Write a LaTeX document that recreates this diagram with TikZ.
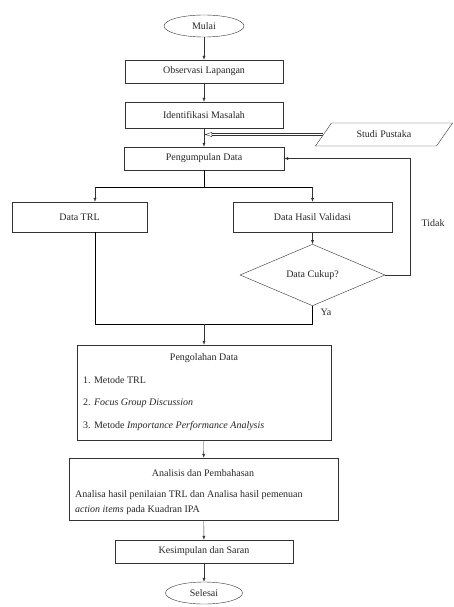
\documentclass[tikz,border=0pt]{standalone}
\usepackage{fontspec}
\setmainfont{Liberation Serif}
\usetikzlibrary{shapes.geometric,arrows.meta}
\begin{document}
\begin{tikzpicture}
	[x=1pt,y=-1pt,
	box/.style={rectangle,draw=black!80,thin,inner sep=0pt,minimum width=#1,minimum height=23pt},
	box/.default=158pt,
	oval/.style={ellipse,draw=black!80,thin,inner sep=0pt,minimum width=#1,minimum height=22pt},
	txt/.style={anchor=west,inner sep=0pt},
	arr/.style={-{Latex[length=4pt,width=3pt]},draw=black!80,thin},
	dbl/.style={draw=black!80,thin,double=white,double distance=1.8pt,-{Latex[open,length=8pt,width=5pt]}},
	every node/.style={text=black!85}]
	\useasboundingbox (0,0) rectangle (454,607);
	\node[oval=80pt] (mulai) at (204,26) {Mulai};
	\node[box] (obs) at (204,71.5) {Observasi Lapangan};
	\node[box,minimum height=26pt] (idm) at (204,115) {Identifikasi Masalah};
	\node[box=160pt] (pgd) at (204,158.5) {Pengumpulan Data};
	\node[trapezium,trapezium left angle=40,trapezium right angle=140,trapezium stretches=true,
		draw=black!80,thin,inner sep=0pt,minimum width=138pt,minimum height=23pt] (pus) at (384,134.5) {Studi Pustaka};
	\node[box=135pt,minimum height=30pt] (trl) at (79.5,217) {Data TRL};
	\node[box=159pt,minimum height=30pt] (val) at (312.5,217) {Data Hasil Validasi};
	\node[diamond,draw=black!80,thin,inner sep=0pt,minimum width=145pt,minimum height=46pt] (cukup) at (312.5,275) {Data Cukup?};
	\node (tdk) at (433,223) {Tidak};
	\node (ya) at (326,312) {Ya};
	\node[box=254pt,minimum height=95pt] (olah) at (204,392.5) {};
	\node (olahT) at (204,358) {Pengolahan Data};
	\node[txt] (m1) at (83,380) {1. Metode TRL};
	\node[txt] (m2) at (83,403) {2. \textit{Focus Group Discussion}};
	\node[txt] (m3) at (83,426) {3. Metode \textit{Importance Performance Analysis}};
	\node[box=269pt,minimum height=62pt] (ana) at (203.5,489) {};
	\node (anaT) at (203,473) {Analisis dan Pembahasan};
	\node[txt] (a1) at (75,495) {Analisa hasil penilaian TRL dan Analisa hasil pemenuan};
	\node[txt] (a2) at (75,510) {\textit{action items} pada Kuadran IPA};
	\node[box=178pt] (kes) at (204,551.5) {Kesimpulan dan Saran};
	\node[oval=77pt] (sls) at (204,593) {Selesai};
	\coordinate (brl) at (95,187);
	\coordinate (jl) at (95,324);
	\path (mulai) edge[arr] (obs);
	\path (obs) edge[arr] (idm);
	\path (idm) edge[arr] (pgd);
	\draw[dbl] (pus.west) -- (pus.west -| idm.south);
	\draw (pgd.south) -- (pgd.south |- brl);
	\draw (brl) -- (brl -| val.north);
	\draw[arr] (brl) -- (brl |- trl.north);
	\draw[arr] (brl -| val.north) -- (val.north);
	\path (val) edge[arr] (cukup);
	\draw[arr] (cukup.east) -- ++(25,0) |- (pgd.east);
	\draw (trl.south -| jl) -- (jl) -- (jl -| cukup.south) -- (cukup.south);
	\draw[arr] (jl -| olah.north) -- (olah.north);
	\path (olah) edge[arr] (ana);
	\path (ana) edge[arr] (kes);
	\path (kes) edge[arr] (sls);
\end{tikzpicture}
\end{document}
